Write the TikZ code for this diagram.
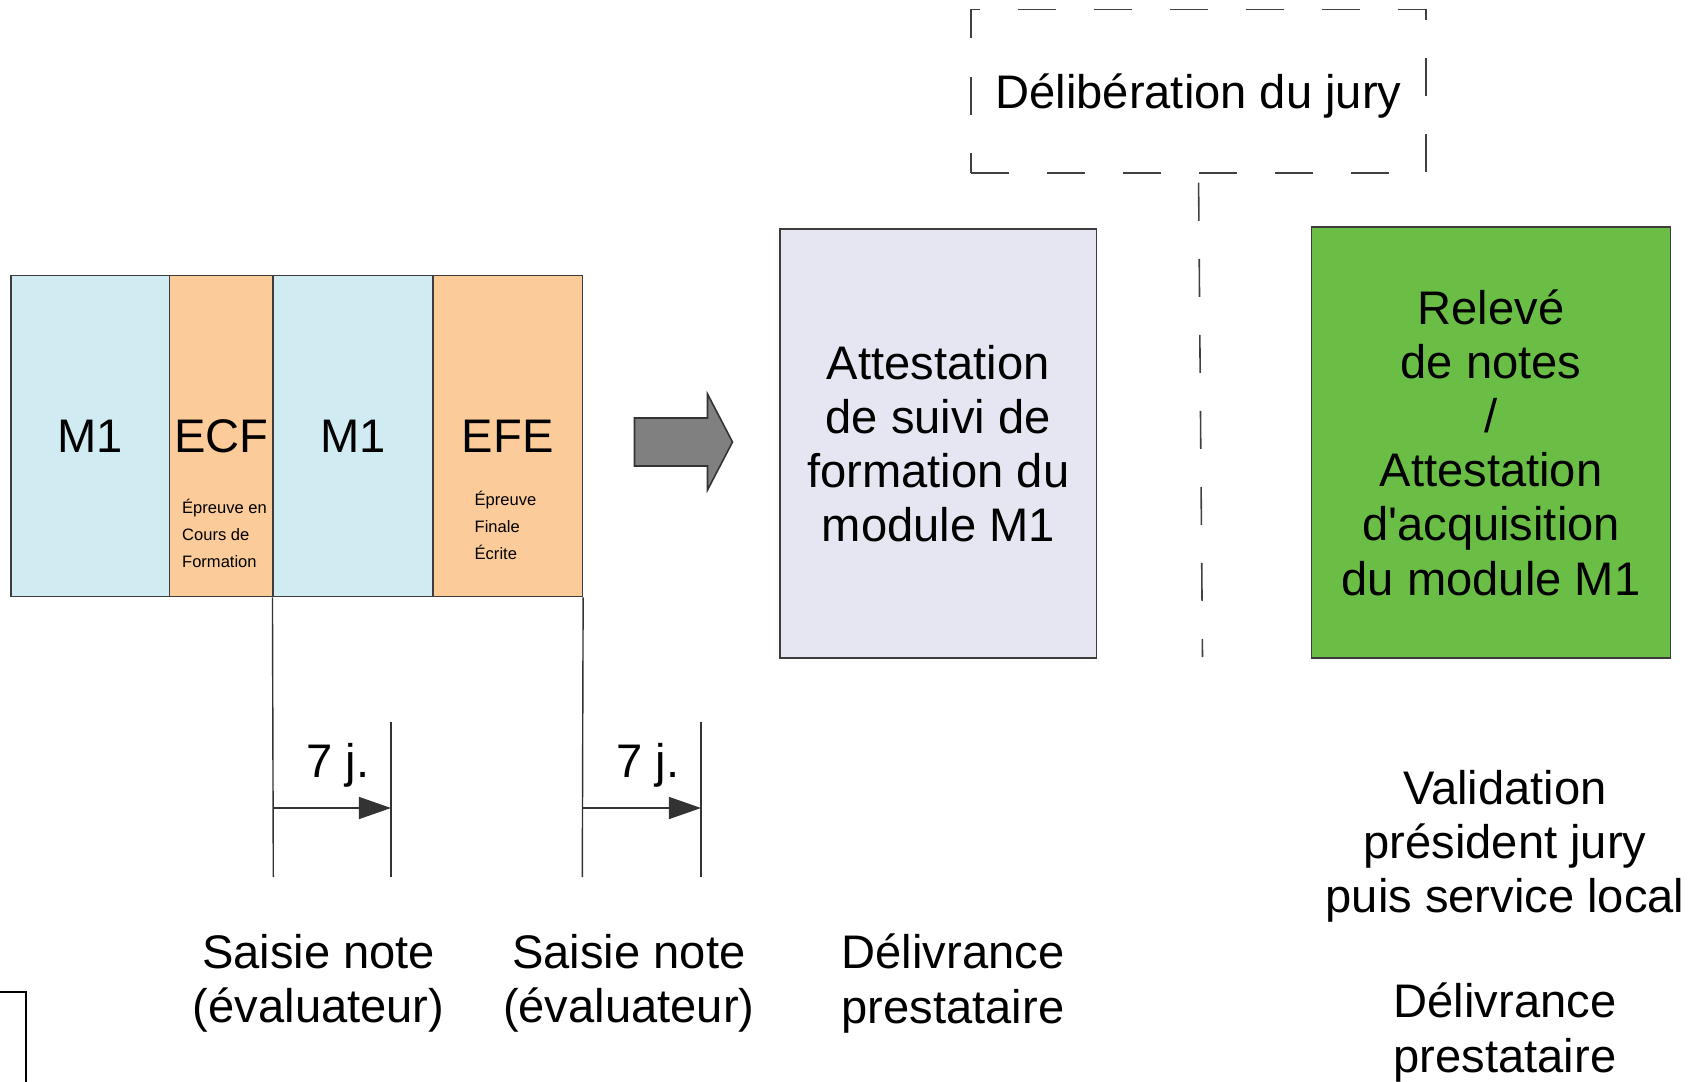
\documentclass[tikz,border=0pt]{standalone}
\usepackage{fontspec}
\setmainfont{Liberation Sans}
\usetikzlibrary{positioning,arrows.meta}
\definecolor{moduleColor}{RGB}{208,236,242}
\definecolor{examColor}{RGB}{251,203,153}
\definecolor{attestColor}{RGB}{230,230,242}
\definecolor{releveColor}{RGB}{106,190,69}
\definecolor{borderColor}{RGB}{60,60,60}
\definecolor{arrowGray}{RGB}{128,128,128}
\tikzstyle{plan} = [x = .01cm, y = -.01cm]
\tikzstyle{bigText} = [font=\fontsize{13.4}{15.4}\selectfont, align=center]
\tikzstyle{smallText} = [font=\fontsize{4.7}{7.7}\selectfont, align=left, inner sep=0, anchor=west]
\tikzstyle{blockStyle} = [draw=borderColor, line width=.45pt, minimum height=3.209cm, inner sep=0, bigText]
\tikzstyle{docStyle} = [draw=borderColor, line width=.45pt, inner sep=0, bigText]
\tikzstyle{juryLine} = [draw=black!75, line width=.45pt, dash pattern=on .38cm off .38cm]
\tikzstyle{timeLine} = [color=black!80, line width=.4pt]
\tikzstyle{delayArrow} = [timeLine, -{Triangle[length=.32cm, width=.22cm]}]

\begin{document}
\begin{tikzpicture}[plan]
  \clip (0,0) rectangle (1694,1082);

  % modules and exams
  \node[blockStyle, fill=moduleColor, minimum width=1.588cm] (moduleA) at (90.2,436) {M1};
  \node[blockStyle, fill=examColor, minimum width=1.037cm] (ecf) at (221.45,436) {ECF};
  \node[blockStyle, fill=moduleColor, minimum width=1.599cm] (moduleB) at (353.25,436) {M1};
  \node[blockStyle, fill=examColor, minimum width=1.491cm] (efe) at (507.75,436) {EFE};
  \node[smallText] (ecfNote) at (181.5,533.7) {Épreuve en\\Cours de\\Formation};
  \node[smallText] (efeNote) at (474,525) {Épreuve\\Finale\\Écrite};

  % big arrow
  \filldraw[fill=arrowGray, draw=black!80, line width=.45pt] (634.5,418) -- (707.5,418) -- (707.5,394)
    -- (732.5,442) -- (707.5,490) -- (707.5,466) -- (634.5,466) -- cycle;

  % documents
  \node[docStyle, fill=attestColor, minimum width=3.166cm, minimum height=4.29cm] (suivi) at (938.3,443.5)
    {Attestation\\de suivi de\\formation du\\module M1};
  \node[docStyle, fill=releveColor, minimum width=3.587cm, minimum height=4.311cm] (releve) at (1491,442.5)
    {Relevé\\de notes\\/\\Attestation\\d\textquotesingle acquisition\\du module M1};

  % jury
  \node[bigText, juryLine, text height=12.6pt, text depth=2.8pt, minimum width=4.55cm, minimum height=1.632cm]
    (jury) at (1198.5,91.3) {Délibération du jury};
  \coordinate (juryEnd) at (1202.5,657);
  \draw[juryLine, dash phase=.67cm] (jury.south) -- (juryEnd);

  % delays
  \coordinate (ecfEnd) at (273.3,877);
  \coordinate (efeEnd) at (582.3,877);
  \draw[timeLine] (moduleB.south west) -- (ecfEnd);
  \draw[timeLine] (efe.south east) -- (efeEnd);
  \coordinate (limitATop) at (391,721.7);
  \coordinate (limitABot) at (391,877);
  \coordinate (limitBTop) at (701,721.7);
  \coordinate (limitBBot) at (701,877);
  \draw[timeLine] (limitATop) -- (limitABot);
  \draw[timeLine] (limitBTop) -- (limitBBot);
  \coordinate (delayAFrom) at (273.3,808);
  \coordinate (delayATo) at (391,808);
  \coordinate (delayBFrom) at (582.3,808);
  \coordinate (delayBTo) at (701,808);
  \draw[delayArrow] (delayAFrom) -- (delayATo);
  \draw[delayArrow] (delayBFrom) -- (delayBTo);
  \node[bigText] (delayA) at (338,765) {7 j.};
  \node[bigText] (delayB) at (648,765) {7 j.};

  % captions
  \node[bigText] (saisieA) at (318.7,983.5) {Saisie note\\(évaluateur)};
  \node[bigText] (saisieB) at (628.8,983.5) {Saisie note\\(évaluateur)};
  \node[bigText] (delivA) at (953,983.5) {Délivrance\\prestataire};
  \node[bigText] (validation) at (1505,846) {Validation\\président jury\\puis service local};
  \node[bigText] (delivB) at (1505,1032.5) {Délivrance\\prestataire};

  % cut box
  \draw[line width=.5pt] (-20,991.7) rectangle (26,1120);
\end{tikzpicture}
\end{document}
